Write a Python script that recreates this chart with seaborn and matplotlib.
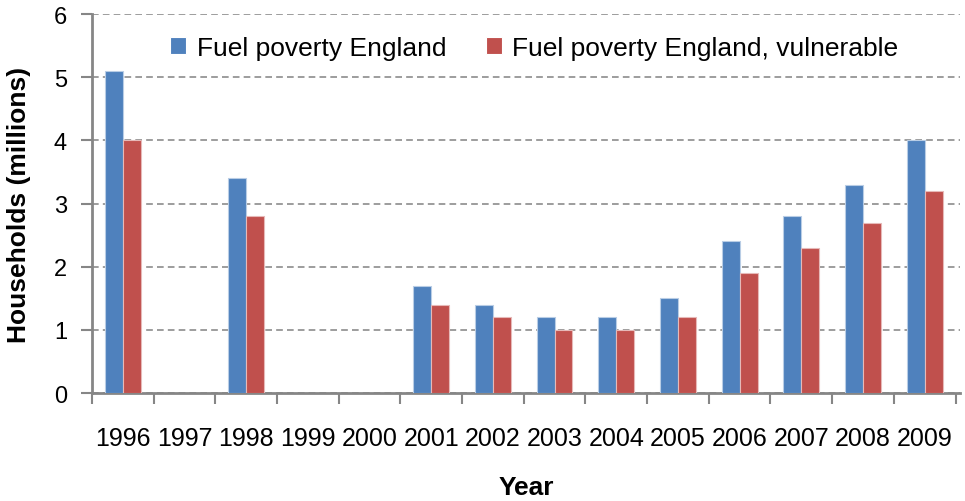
import numpy as np
import pandas as pd
import matplotlib
matplotlib.use("Agg")
import matplotlib.pyplot as plt
import seaborn as sns

years = [str(y) for y in range(1996, 2010)]
data_years = ["1996", "1998", "2001", "2002", "2003", "2004", "2005", "2006", "2007", "2008", "2009"]
fuel_poverty = [5.1, 3.4, 1.7, 1.4, 1.2, 1.2, 1.5, 2.4, 2.8, 3.3, 4.0]
vulnerable = [4.0, 2.8, 1.4, 1.2, 1.0, 1.0, 1.2, 1.9, 2.3, 2.7, 3.2]
series = ["Fuel poverty England", "Fuel poverty England, vulnerable"]

df = pd.DataFrame({
    "Year": data_years * 2,
    "Households": fuel_poverty + vulnerable,
    "Series": [series[0]] * len(data_years) + [series[1]] * len(data_years),
})

sns.set_style("white")
plt.rcParams["font.family"] = ["Liberation Sans", "DejaVu Sans"]
plt.rcParams["text.color"] = "black"
plt.rcParams["axes.labelcolor"] = "black"

fig = plt.figure(figsize=(9.65, 5.02), dpi=100)
ax = fig.add_axes([0.0953, 0.215, 0.9, 0.755])

sns.barplot(data=df, x="Year", y="Households", hue="Series", order=years,
            hue_order=series, palette=["#4F81BD", "#C0504D"], saturation=1,
            width=0.58, errorbar=None, ax=ax, linewidth=0.8, zorder=3)
for i, cont in enumerate(ax.containers):
    for p in cont.patches:
        p.set_edgecolor(["#b9cde5", "#e6b9b8"][i])

ax.set_ylim(0, 6)
ax.set_xlim(-0.5, len(years) - 0.5 + 0.08)
ax.set_yticks(range(0, 7))
ax.yaxis.grid(True, linestyle=(0, (4, 2.5)), color="#8c8c8c", linewidth=1.2, zorder=0)
ax.set_axisbelow(True)

for s in ["top", "right"]:
    ax.spines[s].set_visible(False)
for s in ["left", "bottom"]:
    ax.spines[s].set_color("#868686")
    ax.spines[s].set_linewidth(2)

ax.tick_params(axis="y", which="major", length=8, width=1.5, color="#868686",
               labelsize=17, labelcolor="black", direction="out", left=True, pad=10)
ax.tick_params(axis="x", which="major", length=0, labelsize=18, labelcolor="black", pad=24)
ax.set_xticks(np.arange(-0.5, len(years) - 0.4, 1), minor=True)
ax.tick_params(axis="x", which="minor", length=8, width=1.5, color="#868686",
               direction="out", bottom=True)

ax.set_xlabel("Year", fontsize=19, fontweight="bold", labelpad=18)
ax.set_ylabel("Households (millions)", fontsize=19, fontweight="bold", labelpad=16)

ax.legend(loc="upper left", bbox_to_anchor=(0.063, 1.006), ncol=2, frameon=False,
          fontsize=19, handlelength=0.6, handleheight=0.6, handletextpad=0.4,
          columnspacing=1.5)

fig.savefig("out.png", dpi=100, facecolor="white")
